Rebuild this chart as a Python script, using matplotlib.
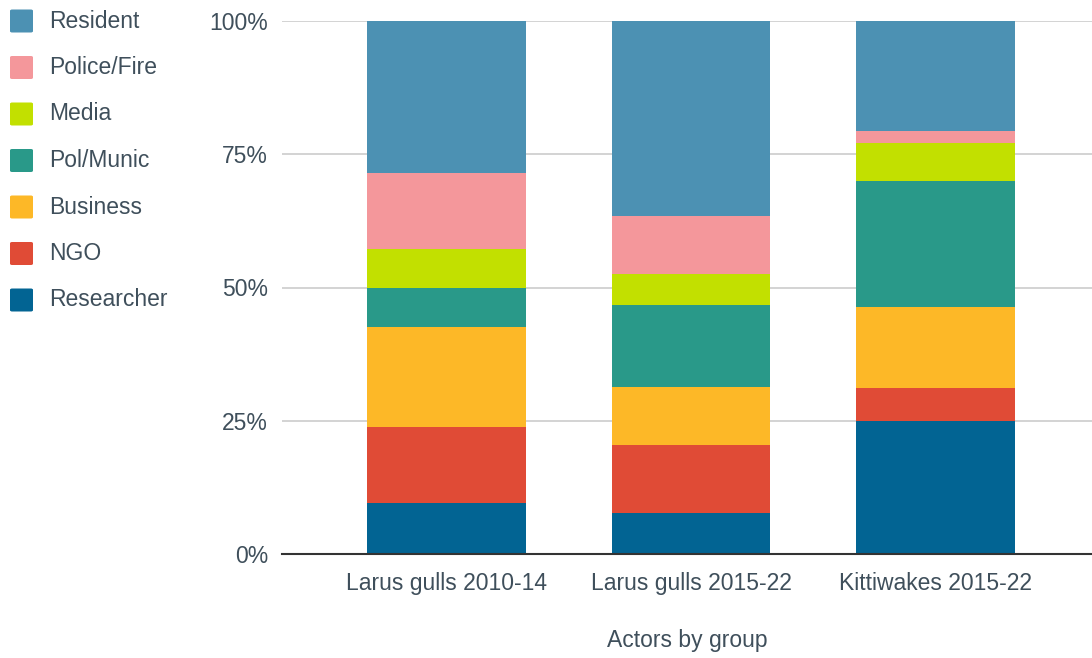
import matplotlib
matplotlib.use("Agg")
import matplotlib.pyplot as plt
from matplotlib.patches import FancyBboxPatch
import numpy as np

plt.rcParams['font.family'] = ['Liberation Sans', 'DejaVu Sans']

categories = ["Larus gulls 2010-14", "Larus gulls 2015-22", "Kittiwakes 2015-22"]
series_names = ["Researcher", "NGO", "Business", "Pol/Munic", "Media", "Police/Fire", "Resident"]
researcher = [9.6, 7.7, 24.9]
ngo = [14.2, 12.8, 6.2]
business = [18.8, 10.9, 15.2]
pol_munic = [7.4, 15.3, 23.7]
media = [7.2, 5.8, 7.2]
police_fire = [14.2, 10.9, 2.2]
resident = [28.6, 36.6, 20.6]
y_ticks = [0, 25, 50, 75, 100]
y_tick_labels = ["0%", "25%", "50%", "75%", "100%"]

colors = {
    "Researcher": "#026493",
    "NGO": "#E04B36",
    "Business": "#FDB827",
    "Pol/Munic": "#299989",
    "Media": "#C2E000",
    "Police/Fire": "#F4979B",
    "Resident": "#4C91B3",
}
values = [researcher, ngo, business, pol_munic, media, police_fire, resident]

text_color = "#3f4f5b"
fs = 16.5
fig = plt.figure(figsize=(10.92, 6.58), dpi=100)
ax = fig.add_axes([282/1092, (658-554)/658, (1092-282)/1092, (554-21)/658])

x = np.arange(len(categories))
bottom = np.zeros(len(categories))
for name, vals in zip(series_names, values):
    ax.bar(x, vals, width=0.65, bottom=bottom, color=colors[name], zorder=3, linewidth=0)
    bottom += np.array(vals)

ax.set_xlim(-0.673, 2.64)
ax.set_ylim(0, 100)
ax.set_yticks(y_ticks)
ax.set_yticklabels(y_tick_labels)
ax.set_xticks(x)
ax.set_xticklabels(categories)
ax.tick_params(axis='both', length=0, labelsize=fs, colors=text_color)
ax.tick_params(axis='y', pad=10)
ax.tick_params(axis='x', pad=13)
ax.grid(axis='y', color='#cccccc', linewidth=1.2, zorder=0)
for s in ['top', 'right', 'left']:
    ax.spines[s].set_visible(False)
ax.spines['bottom'].set_color('#333333')
ax.spines['bottom'].set_linewidth(1.5)
ax.spines['bottom'].set_zorder(4)

fig.text((282+1092)/2/1092, 1 - 641/658, "Actors by group", ha='center', va='center',
         fontsize=fs, color=text_color)

# Legend (manual)
legend_order = ["Resident", "Police/Fire", "Media", "Pol/Munic", "Business", "NGO", "Researcher"]
for i, name in enumerate(legend_order):
    yc = 21 + i * 46.5
    sz = 23
    patch = FancyBboxPatch((10/1092, 1 - (yc + sz/2)/658), sz/1092, sz/658,
                           boxstyle="round,pad=0,rounding_size=0.002",
                           transform=fig.transFigure, facecolor=colors[name],
                           edgecolor='none', figure=fig)
    fig.patches.append(patch)
    fig.text(49/1092, 1 - yc/658, name, ha='left', va='center', fontsize=fs, color=text_color)

fig.savefig("out.png", dpi=100)
